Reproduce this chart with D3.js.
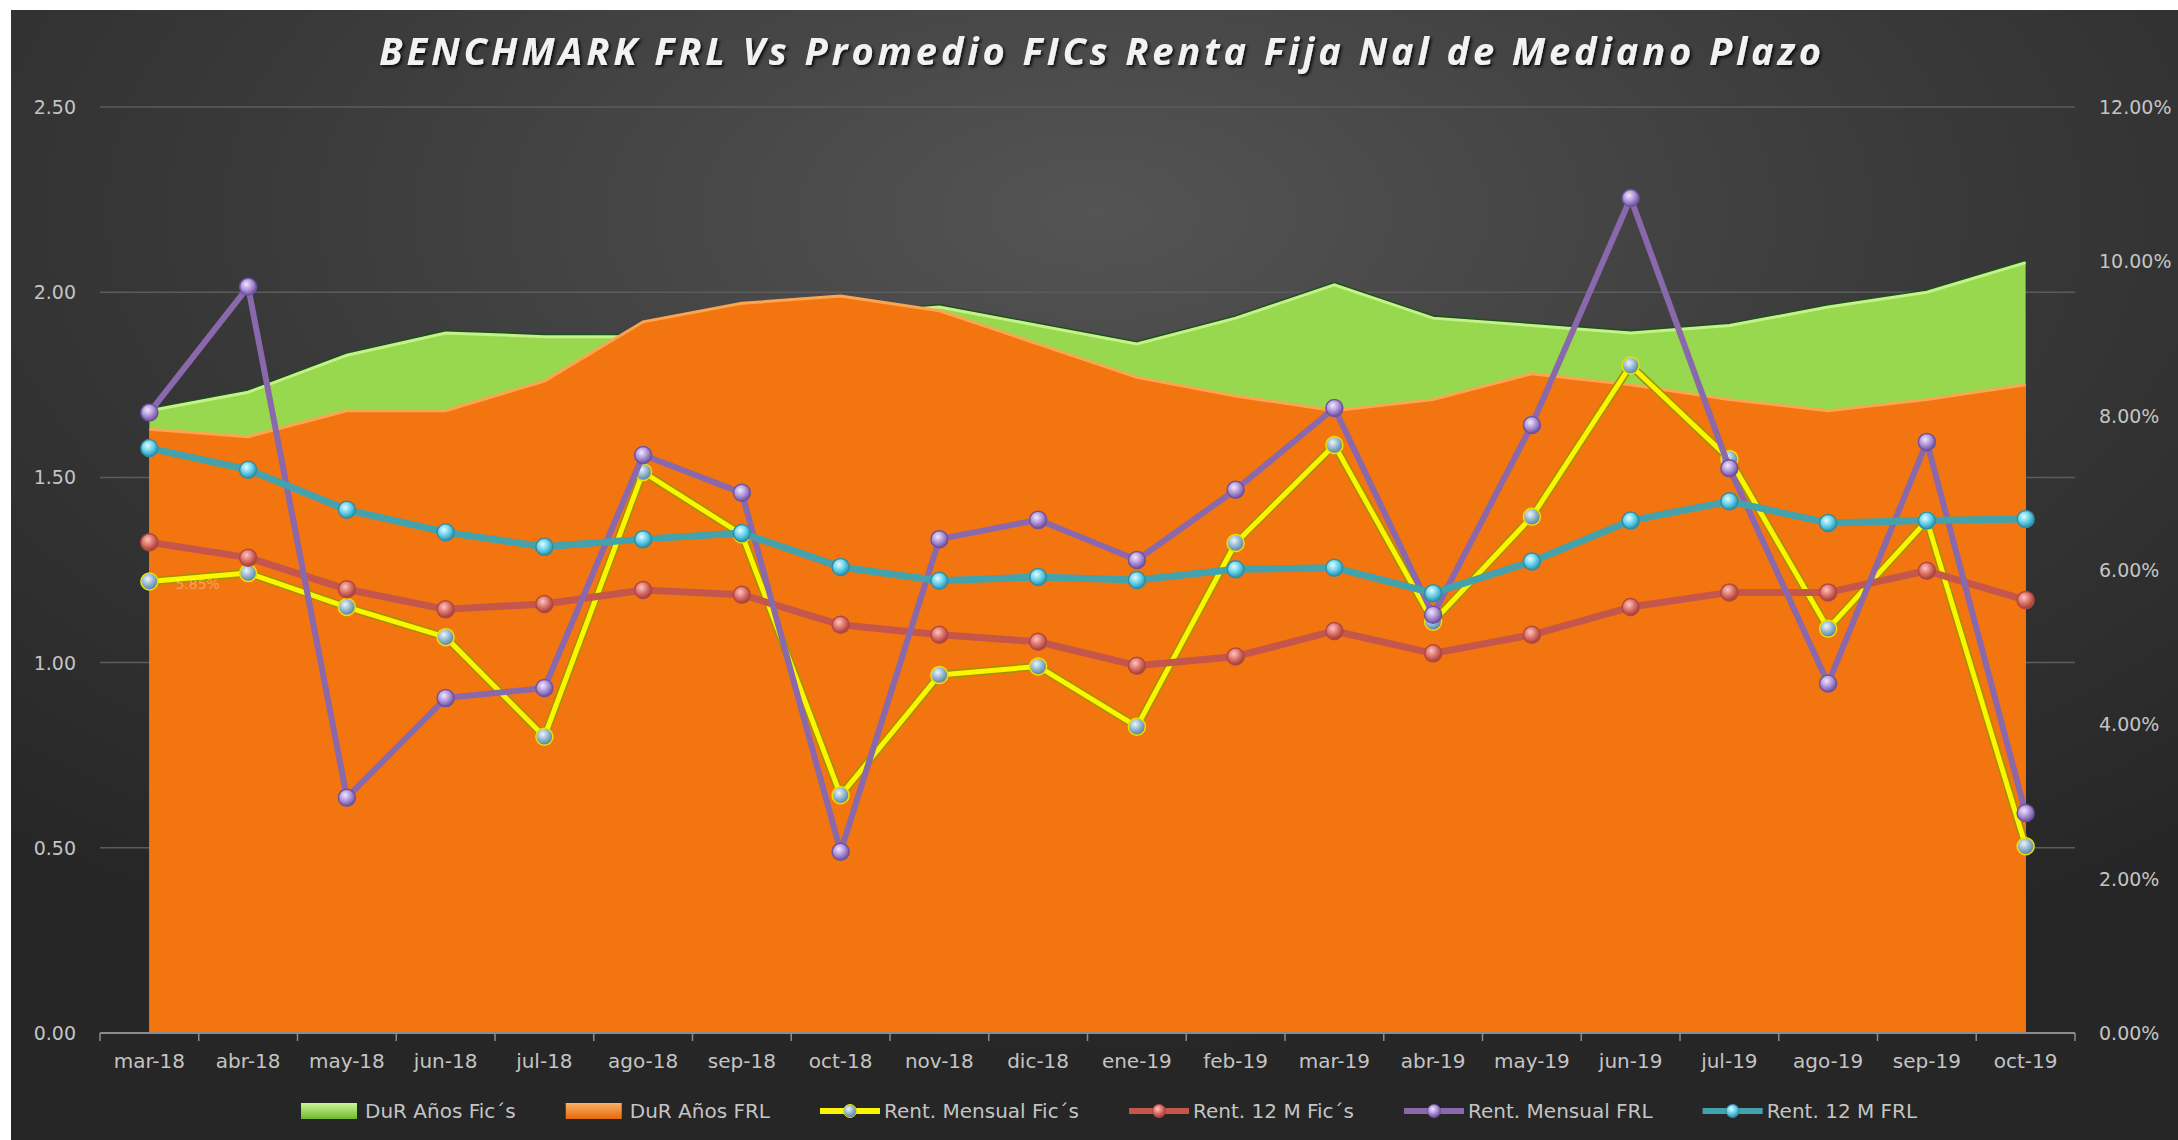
<!DOCTYPE html>
<html>
<head>
<meta charset="utf-8">
<script src="https://cdn.jsdelivr.net/npm/d3@7"></script>
<style>
  html, body { margin: 0; padding: 0; background: #ffffff; }
  svg { display: block; }
</style>
</head>
<body>
<svg width="2178" height="1140"></svg>
<script>
// chart data
var categories = ['mar-18','abr-18','may-18','jun-18','jul-18','ago-18','sep-18','oct-18','nov-18','dic-18',
                  'ene-19','feb-19','mar-19','abr-19','may-19','jun-19','jul-19','ago-19','sep-19','oct-19'];

// durations (years, left axis)
var durFics = [1.68, 1.73, 1.83, 1.89, 1.88, 1.88, 1.91, 1.94, 1.96, 1.91, 1.86, 1.93, 2.02, 1.93, 1.91, 1.89, 1.91, 1.96, 2.00, 2.08];
var durFRL  = [1.63, 1.61, 1.68, 1.68, 1.76, 1.92, 1.97, 1.99, 1.95, 1.86, 1.77, 1.72, 1.68, 1.71, 1.78, 1.75, 1.71, 1.68, 1.71, 1.75];

// returns (% , right axis)
var rentMensualFics = [5.85, 5.96, 5.52, 5.13, 3.84, 7.27, 6.46, 3.08, 4.64, 4.75, 3.97, 6.35, 7.62, 5.33, 6.69, 8.65, 7.44, 5.24, 6.64, 2.42];
var rent12MFics     = [6.36, 6.16, 5.75, 5.49, 5.56, 5.74, 5.68, 5.29, 5.16, 5.07, 4.76, 4.88, 5.21, 4.92, 5.16, 5.52, 5.71, 5.71, 5.99, 5.61];
var rentMensualFRL  = [8.04, 9.67, 3.05, 4.34, 4.47, 7.49, 7.00, 2.35, 6.40, 6.65, 6.13, 7.04, 8.10, 5.42, 7.88, 10.82, 7.32, 4.53, 7.66, 2.85];
var rent12MFRL      = [7.58, 7.30, 6.78, 6.49, 6.30, 6.40, 6.48, 6.04, 5.86, 5.91, 5.87, 6.01, 6.03, 5.70, 6.11, 6.64, 6.89, 6.61, 6.64, 6.66];

var leftTicks  = [0, 0.5, 1.0, 1.5, 2.0, 2.5];
var rightTicks = [0, 2, 4, 6, 8, 10, 12];

var titleText = 'BENCHMARK FRL Vs Promedio FICs Renta Fija Nal de Mediano Plazo';
var legendNames = ['DuR Años Fic´s', 'DuR Años FRL', 'Rent. Mensual Fic´s', 'Rent. 12 M Fic´s', 'Rent. Mensual FRL', 'Rent. 12 M FRL'];

var svg = d3.select('svg');
var width = 2178, height = 1140;
var plot = {left: 100, right: 2075, top: 107, bottom: 1033};

var defs = svg.append('defs');

// background gradient
var bg = defs.append('radialGradient').attr('id', 'bg')
    .attr('cx', '50%').attr('cy', '18%').attr('r', '75%');
bg.append('stop').attr('offset', '0%').attr('stop-color', '#545454');
bg.append('stop').attr('offset', '55%').attr('stop-color', '#383838');
bg.append('stop').attr('offset', '100%').attr('stop-color', '#262626');

svg.append('rect').attr('x', 11).attr('y', 10)
   .attr('width', width - 11).attr('height', height - 10)
   .attr('fill', 'url(#bg)');

// sphere marker gradients
function sphere(id, hi, mid, lo) {
  var g = defs.append('radialGradient').attr('id', id)
      .attr('cx', '40%').attr('cy', '35%').attr('r', '65%');
  g.append('stop').attr('offset', '0%').attr('stop-color', hi);
  g.append('stop').attr('offset', '55%').attr('stop-color', mid);
  g.append('stop').attr('offset', '100%').attr('stop-color', lo);
}
sphere('mYellow', '#eef4fa', '#8fb3cf', '#5c7f99');
sphere('mRed', '#fbc6c0', '#db6e66', '#a23d37');
sphere('mPurple', '#f0e8fb', '#ad91d6', '#6c509c');
sphere('mTeal', '#e4faff', '#62cfe9', '#2c8ea8');

// swatch gradients for legend
function vgrad(id, top, bot) {
  var g = defs.append('linearGradient').attr('id', id)
      .attr('x1', 0).attr('y1', 0).attr('x2', 0).attr('y2', 1);
  g.append('stop').attr('offset', '0%').attr('stop-color', top);
  g.append('stop').attr('offset', '100%').attr('stop-color', bot);
}
vgrad('swGreen', '#c9f59a', '#6fb82e');
vgrad('swOrange', '#fbb066', '#e46a0a');

var shadow = defs.append('filter').attr('id', 'tshadow')
    .attr('x', '-5%').attr('y', '-30%').attr('width', '110%').attr('height', '160%');
shadow.append('feDropShadow').attr('dx', 2).attr('dy', 2).attr('stdDeviation', 1.5)
    .attr('flood-color', '#000').attr('flood-opacity', 0.8);

// scales
var x = d3.scalePoint().domain(categories).range([plot.left, plot.right]).padding(0.5);
var yL = d3.scaleLinear().domain([0, 2.5]).range([plot.bottom, plot.top]);
var yR = d3.scaleLinear().domain([0, 12]).range([plot.bottom, plot.top]);

// gridlines
svg.append('g').selectAll('line').data(leftTicks.slice(1)).enter().append('line')
   .attr('x1', plot.left).attr('x2', plot.right)
   .attr('y1', d => yL(d)).attr('y2', d => yL(d))
   .attr('stroke', '#5c5c5c').attr('stroke-width', 1.5);

// areas
function areaData(vals) { return categories.map((c, i) => ({c: c, v: vals[i]})); }
var area = d3.area().x(d => x(d.c)).y0(yL(0)).y1(d => yL(d.v));
var topLine = d3.line().x(d => x(d.c)).y(d => yL(d.v));

svg.append('path').datum(areaData(durFics)).attr('d', area).attr('fill', '#98d84e');
svg.append('path').datum(areaData(durFics)).attr('d', topLine)
   .attr('fill', 'none').attr('stroke', '#1d4f19').attr('stroke-width', 2)
   .attr('transform', 'translate(0,-2)');
svg.append('path').datum(areaData(durFics)).attr('d', topLine)
   .attr('fill', 'none').attr('stroke', '#c4f28a').attr('stroke-width', 3);

svg.append('path').datum(areaData(durFRL)).attr('d', area).attr('fill', '#f27510');
svg.append('path').datum(areaData(durFRL)).attr('d', topLine)
   .attr('fill', 'none').attr('stroke', '#fba451').attr('stroke-width', 3);

// x axis line + ticks
var xAxis = svg.append('g').attr('transform', 'translate(0,' + plot.bottom + ')');
xAxis.append('line').attr('x1', plot.left).attr('x2', plot.right)
     .attr('stroke', '#8c8c8c').attr('stroke-width', 2);
var step = x.step();
xAxis.selectAll('line.tick').data(d3.range(categories.length + 1)).enter().append('line')
     .attr('class', 'tick')
     .attr('x1', d => plot.left + d * step).attr('x2', d => plot.left + d * step)
     .attr('y1', 0).attr('y2', 8)
     .attr('stroke', '#8c8c8c').attr('stroke-width', 1.5);
xAxis.selectAll('text').data(categories).enter().append('text')
     .attr('x', d => x(d)).attr('y', 35)
     .attr('text-anchor', 'middle')
     .attr('font-family', 'DejaVu Sans').attr('font-size', 20)
     .attr('fill', '#c4c4c4')
     .text(d => d);

// left and right tick labels
svg.append('g').selectAll('text').data(leftTicks).enter().append('text')
   .attr('x', 76).attr('y', d => yL(d) + 7)
   .attr('text-anchor', 'end')
   .attr('font-family', 'DejaVu Sans').attr('font-size', 19)
   .attr('fill', '#c4c4c4')
   .text(d => d3.format('.2f')(d));

svg.append('g').selectAll('text').data(rightTicks).enter().append('text')
   .attr('x', 2099).attr('y', d => yR(d) + 7)
   .attr('text-anchor', 'start')
   .attr('font-family', 'DejaVu Sans').attr('font-size', 19)
   .attr('fill', '#c4c4c4')
   .text(d => d3.format('.2f')(d) + '%');

// line series on right axis
var series = [
  {name: legendNames[2], vals: rentMensualFics, color: '#fbf500', under: '#9c9400', marker: 'mYellow', ring: '#e8e200', w: 5},
  {name: legendNames[3], vals: rent12MFics, color: '#c4564c', under: null, marker: 'mRed', ring: '#b04840', w: 7},
  {name: legendNames[4], vals: rentMensualFRL, color: '#8a68ac', under: null, marker: 'mPurple', ring: '#6e52a0', w: 6},
  {name: legendNames[5], vals: rent12MFRL, color: '#43a2ab', under: null, marker: 'mTeal', ring: '#2f8ea6', w: 7}
];

var line = d3.line().x(d => x(d.c)).y(d => yR(d.v));

series.forEach(s => {
  var g = svg.append('g');
  var data = areaData(s.vals);
  if (s.under) {
    g.append('path').datum(data).attr('d', line)
     .attr('fill', 'none').attr('stroke', s.under).attr('stroke-width', s.w + 3)
     .attr('stroke-linejoin', 'round');
  }
  g.append('path').datum(data).attr('d', line)
   .attr('fill', 'none').attr('stroke', s.color).attr('stroke-width', s.w)
   .attr('stroke-linejoin', 'round');
  g.selectAll('circle').data(data).enter().append('circle')
   .attr('cx', d => x(d.c)).attr('cy', d => yR(d.v)).attr('r', 8.5)
   .attr('fill', 'url(#' + s.marker + ')')
   .attr('stroke', s.ring).attr('stroke-width', 1.5);
});

// faint data label on the first monthly Fic's point
svg.append('text')
   .attr('x', x(categories[0]) + 26).attr('y', yR(rentMensualFics[0]) + 7)
   .attr('font-family', 'DejaVu Sans').attr('font-size', 14)
   .attr('fill', '#ffffff').attr('fill-opacity', 0.35)
   .text(d3.format('.2f')(rentMensualFics[0]) + '%');

// title
svg.append('text')
   .attr('x', 1100).attr('y', 65)
   .attr('text-anchor', 'middle')
   .attr('font-family', 'Open Sans').attr('font-weight', 'bold').attr('font-style', 'italic')
   .attr('font-size', 38)
   .attr('textLength', 1442).attr('lengthAdjust', 'spacing')
   .attr('fill', '#f2f2f2')
   .attr('filter', 'url(#tshadow)')
   .text(titleText);

// legend
var legend = svg.append('g').attr('transform', 'translate(0,1111)');
var legendItems = [
  {type: 'area', fill: 'url(#swGreen)'},
  {type: 'area', fill: 'url(#swOrange)'}
].concat(series.map(s => ({type: 'line', s: s})));

var lx = 301;
legendItems.forEach((it, i) => {
  var g = legend.append('g').attr('transform', 'translate(' + lx + ',0)');
  if (it.type === 'area') {
    g.append('rect').attr('x', 0).attr('y', -8).attr('width', 56).attr('height', 16)
     .attr('fill', it.fill);
  } else {
    g.append('line').attr('x1', 0).attr('x2', 60).attr('y1', 0).attr('y2', 0)
     .attr('stroke', it.s.color).attr('stroke-width', 6);
    g.append('circle').attr('cx', 30).attr('cy', 0).attr('r', 6.5)
     .attr('fill', 'url(#' + it.s.marker + ')').attr('stroke', it.s.ring).attr('stroke-width', 1);
  }
  var t = g.append('text').attr('x', 64).attr('y', 7)
     .attr('font-family', 'DejaVu Sans').attr('font-size', 20)
     .attr('fill', '#c4c4c4')
     .text(legendNames[i]);
  var tw = t.node().getComputedTextLength();
  lx += 64 + tw + 50;
});
</script>
</body>
</html>
